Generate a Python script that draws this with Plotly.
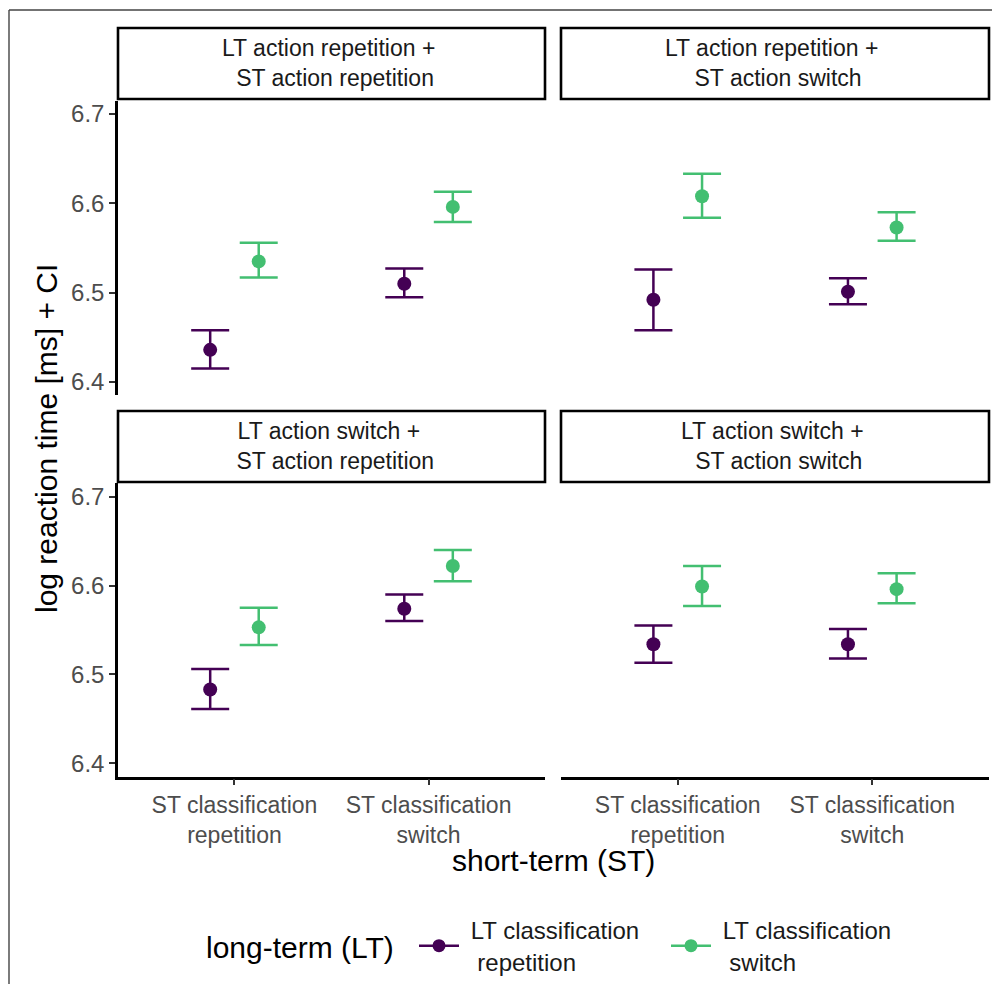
import plotly.graph_objects as go

# ---------------- data ----------------
panel_titles = [
    "LT action repetition +\u00a0<br>\u00a0ST action repetition",
    "LT action repetition +\u00a0<br>\u00a0ST action switch",
    "LT action switch +\u00a0<br>\u00a0ST action repetition",
    "LT action switch +\u00a0<br>\u00a0ST action switch",
]
categories = ["ST classification<br>repetition", "ST classification<br>switch"]
legend_title = "long-term (LT)"
group_names = ["\u00a0LT classification<br>\u00a0\u00a0repetition",
               "\u00a0LT classification<br>\u00a0\u00a0switch"]

# LT classification repetition (per panel: [ST class. repetition, ST class. switch])
rep_mean = [[6.436, 6.510], [6.492, 6.501], [6.483, 6.574], [6.534, 6.534]]
rep_lo   = [[6.415, 6.495], [6.458, 6.487], [6.461, 6.560], [6.513, 6.518]]
rep_hi   = [[6.458, 6.527], [6.526, 6.516], [6.506, 6.590], [6.555, 6.551]]
# LT classification switch
sw_mean  = [[6.535, 6.596], [6.608, 6.573], [6.553, 6.622], [6.599, 6.596]]
sw_lo    = [[6.517, 6.579], [6.584, 6.558], [6.533, 6.605], [6.577, 6.580]]
sw_hi    = [[6.556, 6.613], [6.633, 6.590], [6.575, 6.640], [6.622, 6.614]]

y_ticks = [6.4, 6.5, 6.6, 6.7]

# ---------------- styling ----------------
colors = ["#440154", "#43BF71"]
FONT = "Liberation Sans, Arial, sans-serif"
W, H = 1000, 984
OFF = 8  # page body margin offset of the figure in the browser window
dodge = 0.125

def px_x(p):
    return (p - OFF) / W

def px_y(p):
    return 1 - (p - OFF) / H

x_doms = [[px_x(118), px_x(545)], [px_x(561), px_x(989)]]
y_doms = [[px_y(395.4), px_y(100.6)], [px_y(776.6), px_y(483.4)]]
strip_y = [(28, 99), (411, 482)]

fig = go.Figure()

groups = [(rep_mean, rep_lo, rep_hi), (sw_mean, sw_lo, sw_hi)]
offsets = [-dodge, dodge]

for p in range(4):
    sfx = "" if p == 0 else str(p + 1)
    for g, (m, lo, hi) in enumerate(groups):
        xs = [i + 1 + offsets[g] for i in range(len(categories))]
        fig.add_trace(go.Scatter(
            x=xs, y=m[p], mode="markers",
            marker=dict(color=colors[g], size=14),
            error_y=dict(type="data", symmetric=False,
                         array=[h - v for h, v in zip(hi[p], m[p])],
                         arrayminus=[v - l for v, l in zip(m[p], lo[p])],
                         color=colors[g], thickness=2.5, width=19),
            xaxis="x" + sfx, yaxis="y" + sfx, showlegend=False, hoverinfo="skip",
        ))

# legend-only traces
for g in range(2):
    fig.add_trace(go.Scatter(
        x=[None], y=[None], mode="lines+markers", name=group_names[g],
        line=dict(color=colors[g], width=2.5),
        marker=dict(color=colors[g], size=13),
        showlegend=True,
    ))

axis_common = dict(showgrid=False, zeroline=False)
layout = dict(
    width=W, height=H, margin=dict(l=0, r=0, t=0, b=0),
    paper_bgcolor="white", plot_bgcolor="white",
    font=dict(family=FONT, color="#1a1a1a"),
    showlegend=True,
)

for p in range(4):
    row, col = divmod(p, 2)
    sfx = "" if p == 0 else str(p + 1)
    xa = dict(axis_common, domain=x_doms[col], range=[0.4, 2.6],
              anchor="y" + sfx, fixedrange=True)
    if row == 1:
        xa.update(showline=True, linecolor="black", linewidth=2.5,
                  ticks="outside", ticklen=6, tickwidth=2, tickcolor="#333333",
                  tickvals=[1, 2], ticktext=categories, tickangle=0,
                  tickfont=dict(size=23, color="#4D4D4D", family=FONT))
    else:
        xa.update(showline=False, showticklabels=False, ticks="")
    ya = dict(axis_common, domain=y_doms[row], range=[6.385, 6.715],
              anchor="x" + sfx, fixedrange=True, tickvals=y_ticks)
    if col == 0:
        ya.update(showline=True, linecolor="black", linewidth=2.5,
                  ticks="outside", ticklen=6, tickwidth=2, tickcolor="#333333",
                  tickformat=".1f",
                  tickfont=dict(size=24, color="#4D4D4D", family=FONT))
    else:
        ya.update(showline=False, showticklabels=False, ticks="")
    layout["xaxis" + sfx] = xa
    layout["yaxis" + sfx] = ya

shapes = []
annotations = []
for p in range(4):
    row, col = divmod(p, 2)
    y0, y1 = strip_y[row]
    shapes.append(dict(type="rect", xref="paper", yref="paper",
                       x0=x_doms[col][0], x1=x_doms[col][1],
                       y0=px_y(y1), y1=px_y(y0),
                       line=dict(color="black", width=2.6), fillcolor="white"))
    annotations.append(dict(text=panel_titles[p], xref="paper", yref="paper",
                            x=(x_doms[col][0] + x_doms[col][1]) / 2,
                            y=px_y((y0 + y1) / 2), xanchor="center", yanchor="middle",
                            showarrow=False, align="center",
                            font=dict(size=23, color="#1a1a1a", family=FONT)))

# outer frame (left and top edges)
shapes.append(dict(type="line", xref="paper", yref="paper",
                   x0=px_x(9), x1=px_x(9), y0=0, y1=px_y(10),
                   line=dict(color="#444444", width=1.4)))
shapes.append(dict(type="line", xref="paper", yref="paper",
                   x0=px_x(9), x1=1, y0=px_y(10), y1=px_y(10),
                   line=dict(color="#444444", width=1.4)))

# axis titles
annotations.append(dict(text="short-term (ST)", xref="paper", yref="paper",
                        x=px_x(553.5), y=px_y(860), xanchor="center", yanchor="middle",
                        showarrow=False, font=dict(size=30, color="black", family=FONT)))
annotations.append(dict(text="log reaction time [ms] + CI", xref="paper", yref="paper",
                        x=px_x(46), y=px_y(439), xanchor="center", yanchor="middle",
                        textangle=-90, showarrow=False,
                        font=dict(size=30, color="black", family=FONT)))
# legend title
annotations.append(dict(text=legend_title, xref="paper", yref="paper",
                        x=px_x(204), y=px_y(947), xanchor="left", yanchor="middle",
                        showarrow=False, font=dict(size=30, color="black", family=FONT)))

layout["shapes"] = shapes
layout["annotations"] = annotations
layout["legend"] = dict(
    orientation="h", x=px_x(414), xanchor="left", y=px_y(946), yanchor="middle",
    font=dict(size=24, color="#1a1a1a", family=FONT),
    itemwidth=40, valign="middle", bgcolor="rgba(0,0,0,0)",
    traceorder="normal", entrywidth=197, entrywidthmode="pixels",
)

fig.update_layout(**layout)
fig.write_html("out.html")
